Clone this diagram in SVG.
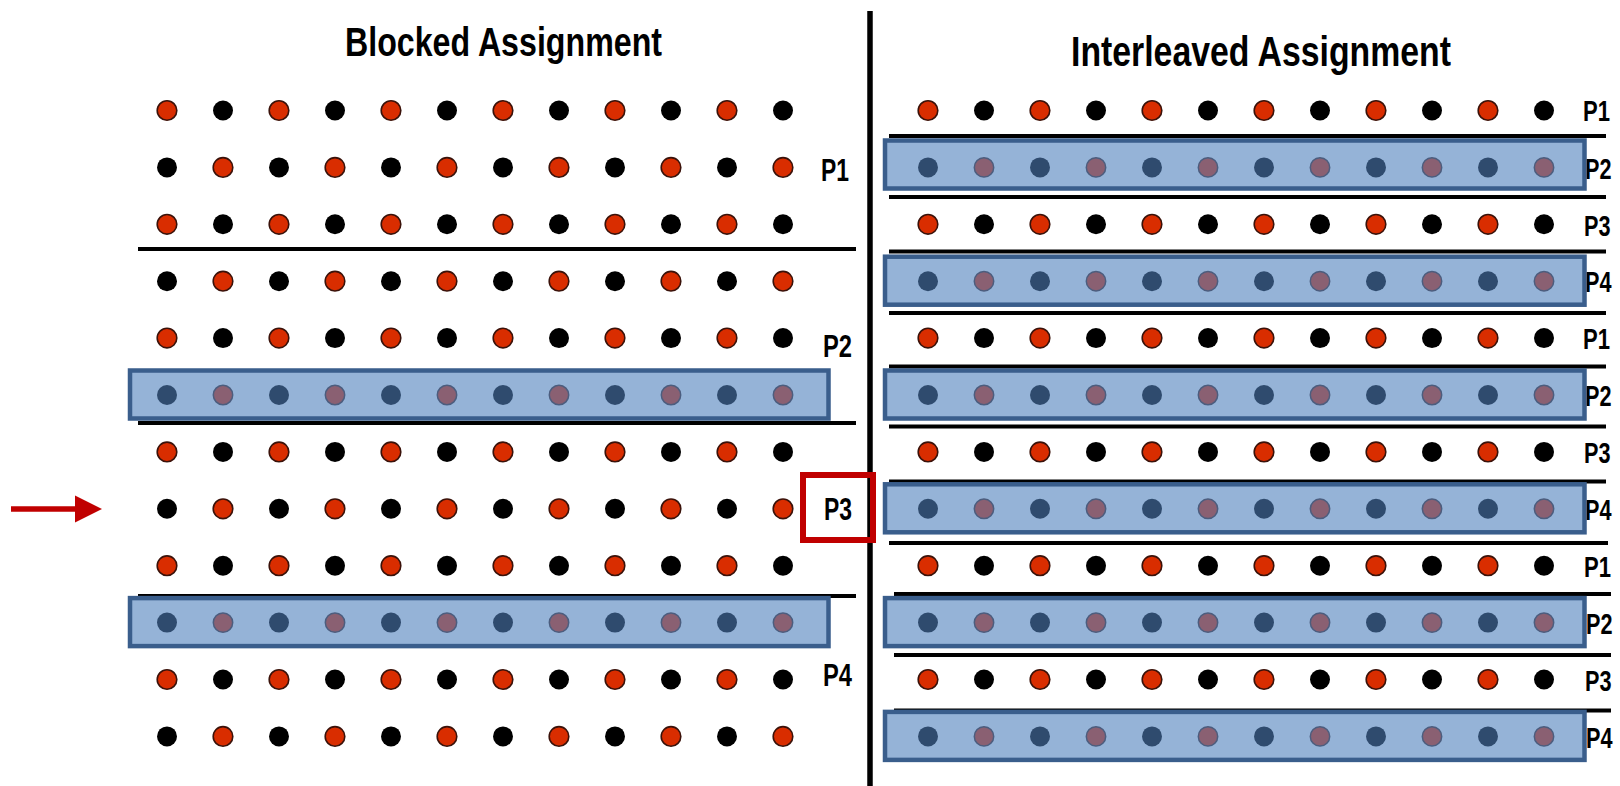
<svg xmlns="http://www.w3.org/2000/svg" xmlns:xlink="http://www.w3.org/1999/xlink" width="1620" height="786" viewBox="0 0 1620 786">
<style>
.red{fill:#d92d00;stroke:#3a120a;stroke-width:1.6}
.blk{fill:#000}
.nav{fill:#2f4b6e}
.mau{fill:#8a6072;stroke:#4c5d7e;stroke-width:1.5}
.hl{fill:#95b3d7;stroke:#3a5e8c;stroke-width:4.5}
.sep{stroke:#000;stroke-width:3.8}
.lbl{font-family:"Liberation Sans",Arial,sans-serif;font-weight:bold;fill:#000}
.title{font-family:"Liberation Sans",Arial,sans-serif;font-weight:bold;fill:#000}
.mark{stroke:#c00000;fill:none}
</style>
<defs>
<g id="rowR">
<circle class="red" cx="0" cy="0" r="9.8"/><circle class="blk" cx="56" cy="0" r="10"/>
<circle class="red" cx="112" cy="0" r="9.8"/><circle class="blk" cx="168" cy="0" r="10"/>
<circle class="red" cx="224" cy="0" r="9.8"/><circle class="blk" cx="280" cy="0" r="10"/>
<circle class="red" cx="336" cy="0" r="9.8"/><circle class="blk" cx="392" cy="0" r="10"/>
<circle class="red" cx="448" cy="0" r="9.8"/><circle class="blk" cx="504" cy="0" r="10"/>
<circle class="red" cx="560" cy="0" r="9.8"/><circle class="blk" cx="616" cy="0" r="10"/>
</g>
<g id="rowK">
<circle class="blk" cx="0" cy="0" r="10"/><circle class="red" cx="56" cy="0" r="9.8"/>
<circle class="blk" cx="112" cy="0" r="10"/><circle class="red" cx="168" cy="0" r="9.8"/>
<circle class="blk" cx="224" cy="0" r="10"/><circle class="red" cx="280" cy="0" r="9.8"/>
<circle class="blk" cx="336" cy="0" r="10"/><circle class="red" cx="392" cy="0" r="9.8"/>
<circle class="blk" cx="448" cy="0" r="10"/><circle class="red" cx="504" cy="0" r="9.8"/>
<circle class="blk" cx="560" cy="0" r="10"/><circle class="red" cx="616" cy="0" r="9.8"/>
</g>
<g id="rowH">
<circle class="nav" cx="0" cy="0" r="10"/><circle class="mau" cx="56" cy="0" r="9.7"/>
<circle class="nav" cx="112" cy="0" r="10"/><circle class="mau" cx="168" cy="0" r="9.7"/>
<circle class="nav" cx="224" cy="0" r="10"/><circle class="mau" cx="280" cy="0" r="9.7"/>
<circle class="nav" cx="336" cy="0" r="10"/><circle class="mau" cx="392" cy="0" r="9.7"/>
<circle class="nav" cx="448" cy="0" r="10"/><circle class="mau" cx="504" cy="0" r="9.7"/>
<circle class="nav" cx="560" cy="0" r="10"/><circle class="mau" cx="616" cy="0" r="9.7"/>
</g>
</defs>
<rect width="1620" height="786" fill="#fff"/>

<g id="connectors">
<line x1="870" y1="11" x2="870" y2="786" stroke="#000" stroke-width="5.5"/>
<line class="sep" x1="138" y1="249" x2="856" y2="249"/>
<line class="sep" x1="138" y1="423" x2="856" y2="423"/>
<line class="sep" x1="138" y1="596" x2="856" y2="596"/>
<line class="sep" x1="889" y1="136" x2="1606" y2="136"/>
<line class="sep" x1="889" y1="197" x2="1606" y2="197"/>
<line class="sep" x1="889" y1="251.5" x2="1606" y2="251.5"/>
<line class="sep" x1="889" y1="313" x2="1606" y2="313"/>
<line class="sep" x1="889" y1="366.5" x2="1606" y2="366.5"/>
<line class="sep" x1="889" y1="426.5" x2="1606" y2="426.5"/>
<line class="sep" x1="889" y1="481.5" x2="1606" y2="481.5"/>
<line class="sep" x1="889" y1="543" x2="1608" y2="543"/>
<line class="sep" x1="894" y1="594" x2="1611" y2="594"/>
<line class="sep" x1="894" y1="655" x2="1611" y2="655"/>
<line class="sep" x1="894" y1="710.5" x2="1611" y2="710.5"/>
<line x1="11" y1="509" x2="78" y2="509" stroke="#c00000" stroke-width="5.7"/>
<polygon points="75,495.5 102,509 75,522.5" fill="#c00000"/>
</g>

<g id="titles">
<text class="title" x="345" y="56" font-size="41" textLength="317" lengthAdjust="spacingAndGlyphs">Blocked Assignment</text>
<text class="title" x="1071" y="65.5" font-size="42" textLength="380" lengthAdjust="spacingAndGlyphs">Interleaved Assignment</text>
</g>

<g id="blocked">
<g id="b-labels">
<text class="lbl" x="821" y="181" font-size="31" textLength="28" lengthAdjust="spacingAndGlyphs">P1</text>
<text class="lbl" x="823" y="357" font-size="31" textLength="29" lengthAdjust="spacingAndGlyphs">P2</text>
<text class="lbl" x="824" y="520" font-size="31" textLength="28" lengthAdjust="spacingAndGlyphs">P3</text>
<text class="lbl" x="823" y="686" font-size="31" textLength="29" lengthAdjust="spacingAndGlyphs">P4</text>
</g>
<g id="b-row0"><use xlink:href="#rowR" x="167" y="110.5"/></g>
<g id="b-row1"><use xlink:href="#rowK" x="167" y="167.4"/></g>
<g id="b-row2"><use xlink:href="#rowR" x="167" y="224.3"/></g>
<g id="b-row3"><use xlink:href="#rowK" x="167" y="281.2"/></g>
<g id="b-row4"><use xlink:href="#rowR" x="167" y="338.1"/></g>
<g id="b-row5"><rect class="hl" x="130" y="370.5" width="698.5" height="48"/><use xlink:href="#rowH" x="167" y="395"/></g>
<g id="b-row6"><use xlink:href="#rowR" x="167" y="451.9"/></g>
<g id="b-row7"><use xlink:href="#rowK" x="167" y="508.8"/></g>
<g id="b-row8"><use xlink:href="#rowR" x="167" y="565.7"/></g>
<g id="b-row9"><rect class="hl" x="130" y="598.1" width="698.5" height="48"/><use xlink:href="#rowH" x="167" y="622.6"/></g>
<g id="b-row10"><use xlink:href="#rowR" x="167" y="679.5"/></g>
<g id="b-row11"><use xlink:href="#rowK" x="167" y="736.4"/></g>
<g id="p3-highlight"><rect class="mark" x="803" y="475" width="70" height="65" stroke-width="6"/></g>
</g>

<g id="interleaved">
<g id="i-labels">
<text class="lbl" x="1583" y="121" font-size="29" textLength="27" lengthAdjust="spacingAndGlyphs">P1</text>
<text class="lbl" x="1585" y="179" font-size="29" textLength="26.5" lengthAdjust="spacingAndGlyphs">P2</text>
<text class="lbl" x="1584" y="235.5" font-size="29" textLength="26.5" lengthAdjust="spacingAndGlyphs">P3</text>
<text class="lbl" x="1585" y="292" font-size="29" textLength="26.5" lengthAdjust="spacingAndGlyphs">P4</text>
<text class="lbl" x="1583" y="349" font-size="29" textLength="27" lengthAdjust="spacingAndGlyphs">P1</text>
<text class="lbl" x="1585" y="406" font-size="29" textLength="26.5" lengthAdjust="spacingAndGlyphs">P2</text>
<text class="lbl" x="1584" y="463" font-size="29" textLength="26.5" lengthAdjust="spacingAndGlyphs">P3</text>
<text class="lbl" x="1585" y="520" font-size="29" textLength="26.5" lengthAdjust="spacingAndGlyphs">P4</text>
<text class="lbl" x="1584" y="577" font-size="29" textLength="27" lengthAdjust="spacingAndGlyphs">P1</text>
<text class="lbl" x="1586" y="634" font-size="29" textLength="26.5" lengthAdjust="spacingAndGlyphs">P2</text>
<text class="lbl" x="1585" y="690.5" font-size="29" textLength="26.5" lengthAdjust="spacingAndGlyphs">P3</text>
<text class="lbl" x="1586" y="747.5" font-size="29" textLength="26.5" lengthAdjust="spacingAndGlyphs">P4</text>
</g>
<g id="i-row0"><use xlink:href="#rowR" x="928" y="110.5"/></g>
<g id="i-row1"><rect class="hl" x="885" y="140.5" width="699.5" height="48"/><use xlink:href="#rowH" x="928" y="167.4"/></g>
<g id="i-row2"><use xlink:href="#rowR" x="928" y="224.3"/></g>
<g id="i-row3"><rect class="hl" x="885" y="256.7" width="699.5" height="48"/><use xlink:href="#rowH" x="928" y="281.2"/></g>
<g id="i-row4"><use xlink:href="#rowR" x="928" y="338.1"/></g>
<g id="i-row5"><rect class="hl" x="885" y="370.5" width="699.5" height="48"/><use xlink:href="#rowH" x="928" y="395"/></g>
<g id="i-row6"><use xlink:href="#rowR" x="928" y="451.9"/></g>
<g id="i-row7"><rect class="hl" x="885" y="484.3" width="699.5" height="48"/><use xlink:href="#rowH" x="928" y="508.8"/></g>
<g id="i-row8"><use xlink:href="#rowR" x="928" y="565.7"/></g>
<g id="i-row9"><rect class="hl" x="885" y="598.1" width="699.5" height="48"/><use xlink:href="#rowH" x="928" y="622.6"/></g>
<g id="i-row10"><use xlink:href="#rowR" x="928" y="679.5"/></g>
<g id="i-row11"><rect class="hl" x="885" y="711.9" width="699.5" height="48"/><use xlink:href="#rowH" x="928" y="736.4"/></g>
</g>
</svg>
